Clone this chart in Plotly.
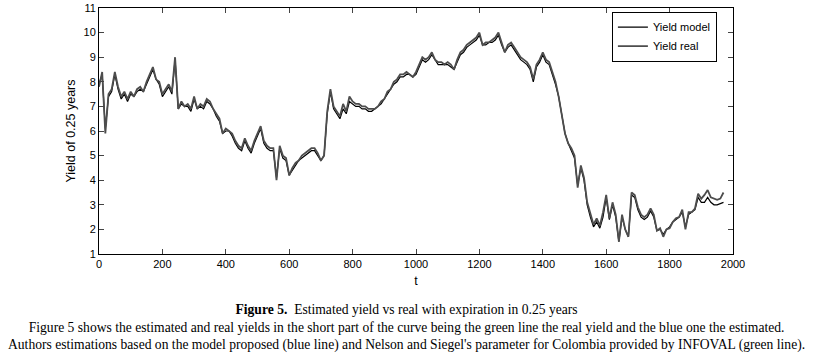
import plotly.graph_objects as go

t = list(range(0, 1980, 10))

yield_real = [
    7.8, 8.4, 5.9, 7.5, 7.7, 8.4, 7.8, 7.4, 7.6, 7.3,
    7.6, 7.4, 7.7, 7.8, 7.6, 8.0, 8.3, 8.6, 8.1, 8.0,
    7.5, 7.7, 7.9, 7.6, 9.0, 6.9, 7.2, 7.0, 7.1, 6.9,
    7.4, 6.9, 7.1, 7.0, 7.3, 7.2, 6.9, 6.7, 6.5, 5.9,
    6.1, 6.0, 5.9, 5.6, 5.4, 5.3, 5.7, 5.4, 5.2, 5.6,
    5.9, 6.2, 5.6, 5.4, 5.3, 5.3, 4.0, 5.4, 5.0, 4.9,
    4.2, 4.5, 4.7, 4.8, 5.0, 5.1, 5.2, 5.3, 5.3, 5.1,
    4.8, 5.0, 6.8, 7.7, 7.0, 6.8, 6.6, 7.1, 6.8, 7.4,
    7.2, 7.1, 7.1, 7.0, 7.0, 6.9, 6.9, 6.9, 7.0, 7.2,
    7.3, 7.6, 7.7, 8.0, 8.1, 8.3, 8.3, 8.4, 8.3, 8.2,
    8.4, 8.7, 9.0, 8.9, 9.0, 9.2, 8.9, 8.8, 8.8, 8.7,
    8.8, 8.7, 8.5, 8.9, 9.2, 9.3, 9.5, 9.6, 9.7, 9.8,
    10.0, 9.5, 9.6, 9.6, 9.7, 9.8, 10.0, 9.6, 9.2, 9.5,
    9.6, 9.4, 9.2, 9.0, 8.9, 8.8, 8.6, 8.1, 8.7, 8.9,
    9.2, 8.9, 8.8, 8.4, 8.0, 7.4, 6.7, 5.9, 5.5, 5.3,
    5.0, 3.7, 4.6, 4.1, 3.1, 2.6, 2.2, 2.45, 2.15, 2.7,
    3.4, 2.45, 3.1, 2.6, 1.5, 2.6, 2.0, 1.7, 3.5, 3.4,
    2.9, 2.6, 2.5, 2.6, 2.85, 2.6, 1.95, 2.05, 1.7, 2.0,
    2.05, 2.3, 2.45, 2.5, 2.8, 2.0, 2.7, 2.7, 2.85, 3.45,
    3.25, 3.4, 3.6, 3.3, 3.25, 3.2, 3.25, 3.5,
]

yield_model = [
    7.9, 8.3, 6.1, 7.4, 7.6, 8.3, 7.7, 7.3, 7.5, 7.2,
    7.5, 7.4, 7.6, 7.7, 7.6, 7.9, 8.2, 8.5, 8.1, 7.9,
    7.4, 7.6, 7.8, 7.5, 8.9, 6.9, 7.1, 7.0, 7.0, 6.8,
    7.3, 6.9, 7.0, 6.9, 7.2, 7.1, 6.9, 6.6, 6.4, 5.9,
    6.0, 6.0, 5.8, 5.5, 5.3, 5.2, 5.6, 5.3, 5.1, 5.5,
    5.8, 6.1, 5.5, 5.3, 5.2, 5.2, 4.1, 5.3, 4.9, 4.8,
    4.2, 4.4, 4.6, 4.8, 4.9, 5.0, 5.1, 5.2, 5.2, 5.0,
    4.8, 5.0, 6.7, 7.6, 6.9, 6.7, 6.5, 6.9, 6.7, 7.2,
    7.1, 7.0, 7.0, 6.9, 6.9, 6.8, 6.8, 6.9, 7.0, 7.1,
    7.3, 7.5, 7.7, 7.9, 8.0, 8.2, 8.2, 8.3, 8.3, 8.2,
    8.3, 8.6, 8.9, 8.8, 8.9, 9.1, 8.9, 8.7, 8.7, 8.7,
    8.7, 8.6, 8.5, 8.8, 9.1, 9.2, 9.4, 9.5, 9.6, 9.7,
    9.9, 9.5, 9.5, 9.6, 9.6, 9.7, 9.9, 9.5, 9.2, 9.4,
    9.5, 9.3, 9.1, 8.9, 8.8, 8.7, 8.5, 8.0, 8.6, 8.8,
    9.1, 8.8, 8.7, 8.3, 7.9, 7.4, 6.7, 5.9, 5.5, 5.2,
    4.9, 3.8, 4.5, 4.0, 3.0, 2.5, 2.1, 2.3, 2.05, 2.5,
    3.3, 2.4, 3.0, 2.5, 1.5, 2.5, 2.0, 1.7, 3.4, 3.3,
    2.8, 2.5, 2.4, 2.5, 2.75, 2.5, 1.95, 2.0, 1.8, 2.0,
    2.1, 2.3, 2.4, 2.5, 2.7, 2.1, 2.6, 2.7, 2.8, 3.3,
    3.1, 3.1, 3.3, 3.1, 3.0, 3.0, 3.05, 3.1,
]

x_ticks = list(range(0, 2001, 200))
y_ticks = list(range(1, 12))

caption_lines = [
    "<b>Figure 5.</b>  Estimated yield vs real with expiration in 0.25 years",
    "Figure 5 shows the estimated and real yields in the short part of the curve being the green line the real yield and the blue one the estimated.",
    "Authors estimations based on the model proposed (blue line) and Nelson and Siegel's parameter for Colombia provided by INFOVAL (green line).",
]

fig = go.Figure()
fig.add_trace(go.Scatter(x=t, y=yield_model, mode="lines", name="Yield model",
                         line=dict(color="#000000", width=1.2)))
fig.add_trace(go.Scatter(x=t, y=yield_real, mode="lines", name="Yield real",
                         line=dict(color="#4d4d4d", width=1.8)))

axis_font = dict(family="Liberation Sans, Arial, sans-serif", size=11, color="#000")
title_font = dict(family="Liberation Sans, Arial, sans-serif", size=12.5, color="#000")
fig.update_layout(
    width=813, height=353,
    margin=dict(l=99, r=80, t=8, b=99, autoexpand=False),
    paper_bgcolor="white", plot_bgcolor="white",
    font=axis_font,
    showlegend=True,
    legend=dict(x=0.809, y=0.985, xanchor="left", yanchor="top",
                bgcolor="white", bordercolor="#000", borderwidth=1,
                font=dict(family="Liberation Sans, Arial, sans-serif", size=11),
                tracegroupgap=0, itemwidth=30),
    xaxis=dict(range=[0, 2000], tickvals=x_ticks, ticks="inside", ticklen=5,
               showline=True, linecolor="#000", linewidth=1, mirror="ticks",
               showgrid=False, zeroline=False, tickfont=axis_font, automargin=False,
               title=dict(text="t", font=title_font, standoff=7)),
    yaxis=dict(range=[1, 11], tickvals=y_ticks, ticks="inside", ticklen=5,
               showline=True, linecolor="#000", linewidth=1, mirror="ticks",
               showgrid=False, zeroline=False, tickfont=axis_font, automargin=False,
               title=dict(text="Yield of 0.25 years", font=title_font, standoff=5)),
)

cap_font = dict(family="Liberation Serif, Times New Roman, serif", size=13.6, color="#000")
cx = (406.5 - 99) / 634
fig.add_annotation(text="<br>".join(caption_lines), xref="paper", yref="paper",
                   x=cx, y=(254 - 327) / 246, xanchor="center", yanchor="middle",
                   align="center", showarrow=False, font=cap_font)

fig.write_html("out.html", config={"displayModeBar": False},
               post_script="document.body.style.margin='0';document.body.style.overflow='hidden';")
